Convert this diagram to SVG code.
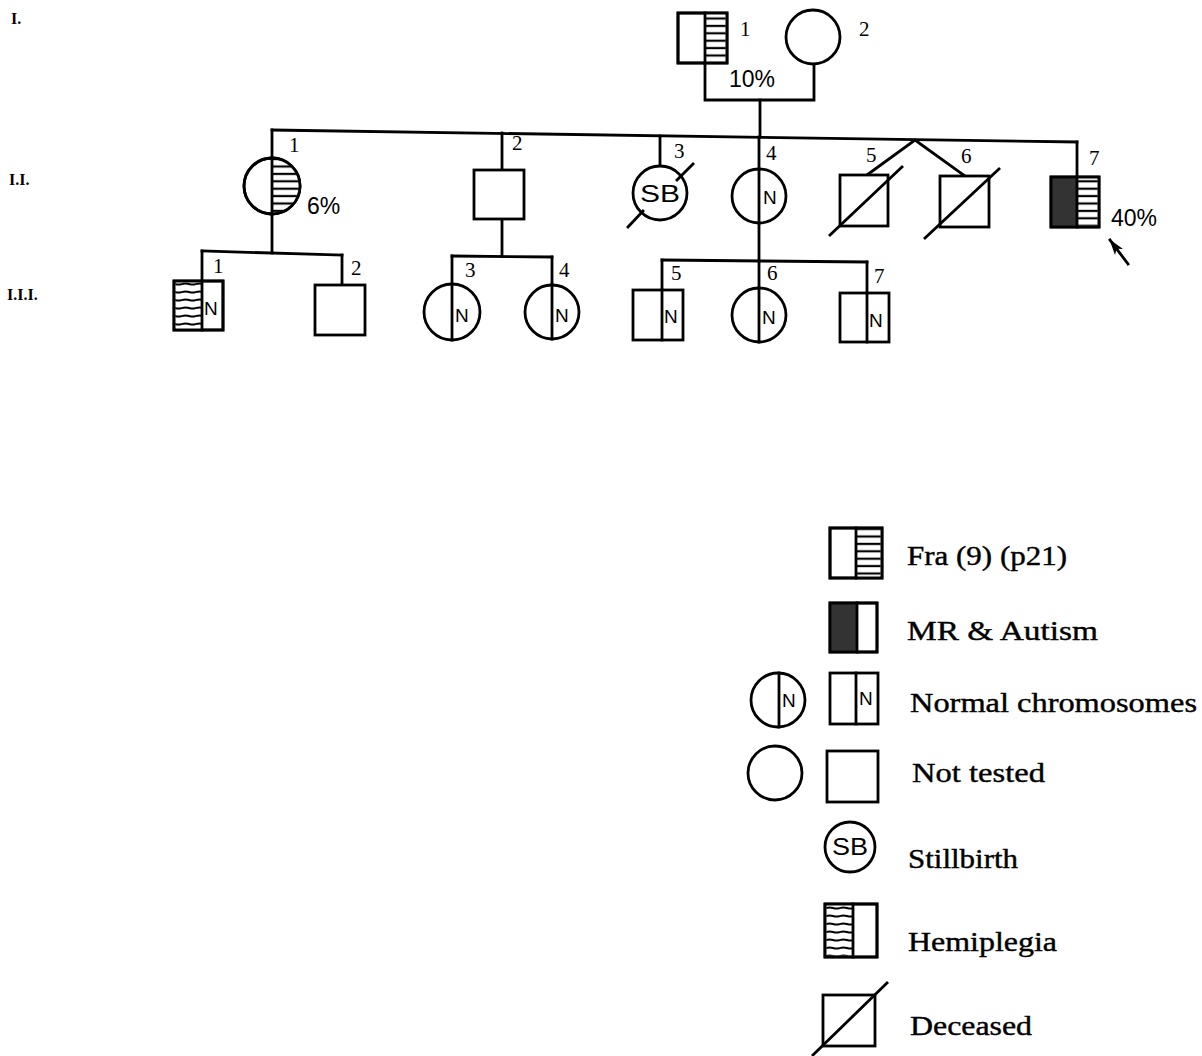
<svg xmlns="http://www.w3.org/2000/svg" width="1202" height="1056" viewBox="0 0 1202 1056">
<style>
.s{fill:none;stroke:#000;stroke-width:2.8;stroke-linecap:square}
.w{fill:#fff;stroke:#000;stroke-width:2.8}
.h{fill:url(#hatch);stroke:none}
.wv{fill:url(#wavy);stroke:none}
.dk{fill:#333;stroke:none}
.num{font-family:"Liberation Serif",serif;font-size:21px;fill:#000}
.pct{font-family:"Liberation Sans",Arial,sans-serif;font-size:23px;fill:#000}
.n{font-family:"Liberation Sans",Arial,sans-serif;font-size:19px;fill:#000}
.sb{font-family:"Liberation Sans",Arial,sans-serif;font-size:24px;fill:#000}
.gen{font-family:"Liberation Serif",serif;font-size:16px;font-weight:bold;fill:#000}
.lg{font-family:"Liberation Serif",serif;font-size:27px;fill:#000;stroke:#000;stroke-width:0.4}
</style>
<defs>
<pattern id="hatch" patternUnits="userSpaceOnUse" width="10" height="7.4">
<rect width="10" height="7.4" fill="#fff"/>
<line x1="0" y1="3.7" x2="10" y2="3.7" stroke="#000" stroke-width="2.2"/>
</pattern>
<pattern id="wavy" patternUnits="userSpaceOnUse" width="14" height="8">
<rect width="14" height="8" fill="#fff"/>
<path d="M0 4 Q3.5 2.8 7 4 T14 4" fill="none" stroke="#000" stroke-width="2"/>
</pattern>
<marker id="ah" markerWidth="16" markerHeight="12" refX="15" refY="6" orient="auto" markerUnits="userSpaceOnUse">
<path d="M0 1 L16 6 L0 11 L4 6 Z" fill="#000"/>
</marker>
</defs>
<rect width="1202" height="1056" fill="#fff"/>

<g id="gen-labels">
<text class="gen" x="11" y="24">I.</text>
<text class="gen" x="9" y="185">I.I.</text>
<text class="gen" x="7" y="300">I.I.I.</text>
</g>

<g id="connectors">
<polyline class="s" points="705,63 705,100 814,100 814,64"/>
<line class="s" x1="760" y1="100" x2="760" y2="137"/>
<line class="s" x1="272" y1="130" x2="1077" y2="142"/>
<line class="s" x1="272" y1="130" x2="272" y2="158"/>
<line class="s" x1="502" y1="133" x2="502" y2="170"/>
<line class="s" x1="660" y1="136" x2="660" y2="166"/>
<line class="s" x1="759" y1="137" x2="759" y2="169"/>
<polyline class="s" points="867,175 915,140 965,176"/>
<line class="s" x1="1077" y1="142" x2="1077" y2="177"/>
<line class="s" x1="272" y1="214" x2="272" y2="253"/>
<line class="s" x1="502" y1="219" x2="502" y2="256"/>
<line class="s" x1="759" y1="223" x2="759" y2="261"/>
<line class="s" x1="202" y1="251" x2="342" y2="255"/>
<line class="s" x1="202" y1="251" x2="202" y2="281"/>
<line class="s" x1="342" y1="255" x2="342" y2="285"/>
<line class="s" x1="452" y1="256" x2="552" y2="257"/>
<line class="s" x1="452" y1="256" x2="452" y2="284"/>
<line class="s" x1="552" y1="257" x2="552" y2="284"/>
<line class="s" x1="662" y1="260" x2="867" y2="262"/>
<line class="s" x1="662" y1="260" x2="662" y2="290"/>
<line class="s" x1="759" y1="261" x2="759" y2="288"/>
<line class="s" x1="867" y1="262" x2="867" y2="293"/>
</g>

<g id="I-1">
<rect class="w" x="678" y="13" width="49" height="50"/>
<rect class="h" x="705" y="14.4" width="20.6" height="47.2"/>
<rect class="s" x="678" y="13" width="49" height="50"/>
<line class="s" x1="705" y1="13" x2="705" y2="63"/>
<text class="num" x="740" y="36">1</text>
<text class="pct" x="729" y="87">10%</text>
</g>
<g id="I-2">
<circle class="w" cx="813" cy="37" r="27"/>
<text class="num" x="859" y="36">2</text>
</g>

<g id="II-1">
<circle class="w" cx="272" cy="186" r="28"/>
<path class="h" d="M272 158 A28 28 0 0 1 272 214 Z"/>
<circle class="s" cx="272" cy="186" r="28"/>
<line class="s" x1="272" y1="158" x2="272" y2="214"/>
<text class="num" x="289" y="152">1</text>
<text class="pct" x="307" y="214">6%</text>
</g>
<g id="II-2">
<rect class="w" x="474" y="170" width="50" height="49"/>
<text class="num" x="512" y="150">2</text>
</g>
<g id="II-3">
<circle class="w" cx="660" cy="193" r="27"/>
<text class="sb" x="660" y="202" text-anchor="middle" textLength="40" lengthAdjust="spacingAndGlyphs">SB</text>
<line class="s" x1="628" y1="227" x2="643" y2="211"/>
<line class="s" x1="677" y1="180" x2="693" y2="164"/>
<text class="num" x="674" y="158">3</text>
</g>
<g id="II-4">
<circle class="w" cx="759" cy="196" r="27"/>
<line class="s" x1="759" y1="169" x2="759" y2="223"/>
<text class="n" x="763" y="204">N</text>
<text class="num" x="766" y="160">4</text>
</g>
<g id="II-5">
<rect class="w" x="840" y="175" width="48" height="51"/>
<line class="s" x1="830" y1="235" x2="902" y2="167"/>
<text class="num" x="866" y="162">5</text>
</g>
<g id="II-6">
<rect class="w" x="940" y="176" width="49" height="51"/>
<line class="s" x1="925" y1="238" x2="999" y2="169"/>
<text class="num" x="961" y="163">6</text>
</g>
<g id="II-7">
<rect class="w" x="1051" y="177" width="48" height="50"/>
<rect class="dk" x="1051" y="177" width="26" height="50"/>
<rect class="h" x="1077" y="178.4" width="20.6" height="47.2"/>
<rect class="s" x="1051" y="177" width="48" height="50"/>
<line class="s" x1="1077" y1="177" x2="1077" y2="227"/>
<text class="num" x="1089" y="165">7</text>
<text class="pct" x="1111" y="226" font-size="25">40%</text>
<line class="s" x1="1128" y1="264" x2="1110" y2="240" marker-end="url(#ah)"/>
</g>

<g id="III-1">
<rect class="w" x="174" y="281" width="49" height="49"/>
<rect class="wv" x="175.4" y="282.4" width="26.6" height="46.2"/>
<rect class="s" x="174" y="281" width="49" height="49"/>
<line class="s" x1="202" y1="281" x2="202" y2="330"/>
<text class="n" x="204" y="315">N</text>
<text class="num" x="213" y="273">1</text>
</g>
<g id="III-2">
<rect class="w" x="315" y="285" width="50" height="50"/>
<text class="num" x="351" y="275">2</text>
</g>
<g id="III-3">
<circle class="w" cx="452" cy="312" r="28"/>
<line class="s" x1="452" y1="284" x2="452" y2="340"/>
<text class="n" x="455" y="322">N</text>
<text class="num" x="465" y="277">3</text>
</g>
<g id="III-4">
<circle class="w" cx="552" cy="312" r="27"/>
<line class="s" x1="552" y1="284" x2="552" y2="339"/>
<text class="n" x="555" y="322">N</text>
<text class="num" x="559" y="277">4</text>
</g>
<g id="III-5">
<rect class="w" x="633" y="290" width="50" height="50"/>
<line class="s" x1="662" y1="290" x2="662" y2="340"/>
<text class="n" x="664" y="323">N</text>
<text class="num" x="671" y="280">5</text>
</g>
<g id="III-6">
<circle class="w" cx="759" cy="315" r="27"/>
<line class="s" x1="759" y1="288" x2="759" y2="342"/>
<text class="n" x="762" y="324">N</text>
<text class="num" x="767" y="280">6</text>
</g>
<g id="III-7">
<rect class="w" x="840" y="293" width="49" height="49"/>
<line class="s" x1="867" y1="293" x2="867" y2="342"/>
<text class="n" x="869" y="327">N</text>
<text class="num" x="874" y="283">7</text>
</g>

<g id="legend">
<g id="legend-fra">
<rect class="w" x="830" y="528" width="52" height="50"/>
<rect class="h" x="856" y="529.4" width="24.6" height="47.2"/>
<rect class="s" x="830" y="528" width="52" height="50"/>
<line class="s" x1="856" y1="528" x2="856" y2="578"/>
<text class="lg" x="907" y="565" textLength="160" lengthAdjust="spacingAndGlyphs">Fra (9) (p21)</text>
</g>
<g id="legend-mr">
<rect class="w" x="830" y="603" width="47" height="49"/>
<rect class="dk" x="830" y="603" width="27" height="49"/>
<rect class="s" x="830" y="603" width="47" height="49"/>
<line class="s" x1="857" y1="603" x2="857" y2="652"/>
<text class="lg" x="907" y="640" textLength="191" lengthAdjust="spacingAndGlyphs">MR &amp; Autism</text>
</g>
<g id="legend-normal">
<circle class="w" cx="778" cy="700" r="27"/>
<line class="s" x1="779" y1="673" x2="779" y2="727"/>
<text class="n" x="782" y="707" font-size="16">N</text>
<rect class="w" x="830" y="673" width="48" height="51"/>
<line class="s" x1="856" y1="673" x2="856" y2="724"/>
<text class="n" x="859" y="705" font-size="16">N</text>
<text class="lg" x="910" y="712" textLength="287" lengthAdjust="spacingAndGlyphs">Normal chromosomes</text>
</g>
<g id="legend-nottested">
<circle class="w" cx="775" cy="773" r="27"/>
<rect class="w" x="827" y="751" width="51" height="51"/>
<text class="lg" x="912" y="782" textLength="133" lengthAdjust="spacingAndGlyphs">Not tested</text>
</g>
<g id="legend-sb">
<circle class="w" cx="850" cy="847" r="25"/>
<text class="sb" x="850" y="855" font-size="22" text-anchor="middle" textLength="36" lengthAdjust="spacingAndGlyphs">SB</text>
<text class="lg" x="908" y="868" textLength="110" lengthAdjust="spacingAndGlyphs">Stillbirth</text>
</g>
<g id="legend-hemi">
<rect class="w" x="825" y="904" width="52" height="53"/>
<rect class="wv" x="826.4" y="905.4" width="26.6" height="50.2"/>
<rect class="s" x="825" y="904" width="52" height="53"/>
<line class="s" x1="853" y1="904" x2="853" y2="957"/>
<text class="lg" x="908" y="951" textLength="149" lengthAdjust="spacingAndGlyphs">Hemiplegia</text>
</g>
<g id="legend-deceased">
<rect class="w" x="823" y="995" width="52" height="51"/>
<line class="s" x1="813" y1="1055" x2="887" y2="983"/>
<text class="lg" x="910" y="1035" textLength="122" lengthAdjust="spacingAndGlyphs">Deceased</text>
</g>
</g>
</svg>
